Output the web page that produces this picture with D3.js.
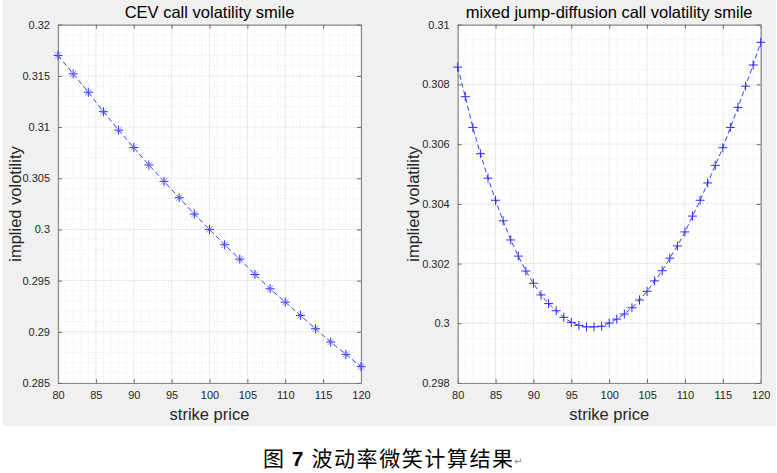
<!DOCTYPE html>
<html><head><meta charset="utf-8">
<script src="https://cdn.jsdelivr.net/npm/d3@7/dist/d3.min.js"></script>
<style>body{margin:0;background:#fff}svg{display:block}</style>
</head><body>
<svg id="c" width="777" height="473"></svg>
<script>
// ---- data ----
const cevStrikes = [80,82,84,86,88,90,92,94,96,98,100,102,104,106,108,110,112,114,116,118,120];
const cevVol = [0.3170,0.3152,0.3134,0.3115,0.3097,0.3080,0.3063,0.3047,0.3031,0.3015,0.3000,0.2985,0.2971,0.2956,0.2942,0.2929,0.2916,0.2903,0.2890,0.2878,0.2866];
const jdStrikes = [80,81,82,83,84,85,86,87,88,89,90,91,92,93,94,95,96,97,98,99,100,101,102,103,104,105,106,107,108,109,110,111,112,113,114,115,116,117,118,119,120];
const jdVol = [0.30858,0.30759,0.30656,0.30568,0.30486,0.30412,0.30343,0.30279,0.30225,0.30175,0.30134,0.30095,0.30066,0.30042,0.30020,0.30003,0.29993,0.29988,0.29988,0.29990,0.30001,0.30014,0.30031,0.30052,0.30078,0.30107,0.30142,0.30176,0.30218,0.30259,0.30306,0.30359,0.30412,0.30470,0.30529,0.30588,0.30656,0.30723,0.30794,0.30865,0.30941];
const xTicks = [80,85,90,95,100,105,110,115,120];
const cevYTicks = [0.285,0.29,0.295,0.3,0.305,0.31,0.315,0.32];
const cevYTickLabels = ["0.285","0.29","0.295","0.3","0.305","0.31","0.315","0.32"];
const jdYTicks = [0.298,0.3,0.302,0.304,0.306,0.308,0.31];
const jdYTickLabels = ["0.298","0.3","0.302","0.304","0.306","0.308","0.31"];
const titles = ["CEV call volatility smile","mixed jump-diffusion call volatility smile"];
const yLabels = ["implied volotility","implied volatility"];
const xLabel = "strike price";
const caption = ["图 ","7"," 波动率微笑计算结果"];

const svg = d3.select("#c");
const font = "Arial, 'Liberation Sans', Helvetica, sans-serif";
svg.append("rect").attr("x",3).attr("y",0).attr("width",773).attr("height",426).attr("fill","#f0f0f0");

function panel(o){
  const x = d3.scaleLinear().domain([80,120]).range([o.x0,o.x1]);
  const y = d3.scaleLinear().domain(o.yDom).range([383,24.7]);
  const g = svg.append("g");
  g.append("rect").attr("x",o.x0).attr("y",24.7).attr("width",o.x1-o.x0).attr("height",383-24.7).attr("fill","#fff");
  // minor grid
  const xMinor = d3.range(80,121,1).filter(v=>v%5!==0);
  const yMinor = d3.range(0,Math.round((o.yDom[1]-o.yDom[0])/o.yMinorStep)+1).map(i=>o.yDom[0]+i*o.yMinorStep)
     .filter(v=>!o.yTicks.some(t=>Math.abs(t-v)<1e-9));
  g.selectAll(".xm").data(xMinor).join("line").attr("x1",d=>x(d)).attr("x2",d=>x(d)).attr("y1",24.7).attr("y2",383)
    .attr("stroke","#e2e2e2").attr("stroke-width",0.8).attr("stroke-dasharray","1,2");
  g.selectAll(".ym").data(yMinor).join("line").attr("y1",d=>y(d)).attr("y2",d=>y(d)).attr("x1",o.x0).attr("x2",o.x1)
    .attr("stroke","#e2e2e2").attr("stroke-width",0.8).attr("stroke-dasharray","1,2");
  // major grid
  g.selectAll(".xg").data(xTicks).join("line").attr("x1",d=>x(d)).attr("x2",d=>x(d)).attr("y1",24.7).attr("y2",383)
    .attr("stroke","#d4d4d4").attr("stroke-width",0.8).attr("stroke-dasharray","1.5,1");
  g.selectAll(".yg").data(o.yTicks).join("line").attr("y1",d=>y(d)).attr("y2",d=>y(d)).attr("x1",o.x0).attr("x2",o.x1)
    .attr("stroke","#d4d4d4").attr("stroke-width",0.8).attr("stroke-dasharray","1.5,1");
  // axes
  const ax = g.append("g").attr("transform","translate(0,383)")
    .call(d3.axisBottom(x).tickValues(xTicks).tickSizeInner(-4).tickSizeOuter(0).tickPadding(8));
  const axT = g.append("g").attr("transform","translate(0,24.7)")
    .call(d3.axisTop(x).tickValues(xTicks).tickSizeInner(-4).tickSizeOuter(0).tickFormat(""));
  const ay = g.append("g").attr("transform",`translate(${o.x0},0)`)
    .call(d3.axisLeft(y).tickValues(o.yTicks).tickFormat((d,i)=>o.yTickLabels[i]).tickSizeInner(-4).tickSizeOuter(0).tickPadding(8));
  const ayR = g.append("g").attr("transform",`translate(${o.x1},0)`)
    .call(d3.axisRight(y).tickValues(o.yTicks).tickSizeInner(-4).tickSizeOuter(0).tickFormat(""));
  [ax,axT,ay,ayR].forEach(a=>{
    a.select(".domain").attr("stroke","#8a8a8a").attr("stroke-width",1.2);
    a.selectAll(".tick line").attr("stroke","#6a6a6a");
    a.selectAll("text").attr("fill","#262626").style("font-family",font).style("font-size","11px");
  });
  // line
  const pts = o.xs.map((d,i)=>[d,o.ys[i]]);
  g.append("path").datum(pts).attr("d",d3.line().x(d=>x(d[0])).y(d=>y(d[1])))
    .attr("fill","none").attr("stroke","#3b3bff").attr("stroke-width",1).attr("stroke-dasharray","5,3");
  // markers
  const m = g.selectAll(".mk").data(pts).join("g").attr("transform",d=>`translate(${x(d[0])},${y(d[1])})`);
  const s = 4.5;
  m.append("line").attr("x1",-s).attr("x2",s).attr("y1",0).attr("y2",0).attr("stroke","#2a2aff").attr("stroke-width",1);
  m.append("line").attr("x1",0).attr("x2",0).attr("y1",-s).attr("y2",s).attr("stroke","#2a2aff").attr("stroke-width",1);
  if(o.star){
    const d = s*0.7;
    m.append("line").attr("x1",-d).attr("x2",d).attr("y1",-d).attr("y2",d).attr("stroke","#6a6aff").attr("stroke-width",0.8);
    m.append("line").attr("x1",-d).attr("x2",d).attr("y1",d).attr("y2",-d).attr("stroke","#6a6aff").attr("stroke-width",0.8);
  }
  // texts
  const cx = (o.x0+o.x1)/2;
  g.append("text").attr("x",cx).attr("y",18).attr("text-anchor","middle").attr("fill","#000")
    .style("font-family",font).style("font-size","16.5px").text(o.title);
  g.append("text").attr("x",cx).attr("y",420).attr("text-anchor","middle").attr("fill","#262626")
    .style("font-family",font).style("font-size","16.5px").text(xLabel);
  g.append("text").attr("transform",`translate(${o.yLabX},204) rotate(-90)`).attr("text-anchor","middle").attr("fill","#262626")
    .style("font-family",font).style("font-size","16.5px").text(o.yLabel);
}

panel({x0:58,x1:361,yDom:[0.285,0.32],yTicks:cevYTicks,yTickLabels:cevYTickLabels,yMinorStep:0.001,
  xs:cevStrikes,ys:cevVol,star:true,title:titles[0],yLabel:yLabels[0],yLabX:21});
panel({x0:457.7,x1:760.7,yDom:[0.298,0.31],yTicks:jdYTicks,yTickLabels:jdYTickLabels,yMinorStep:0.0005,
  xs:jdStrikes,ys:jdVol,star:false,title:titles[1],yLabel:yLabels[1],yLabX:419});

// caption
const cap = svg.append("text").attr("x",263).attr("y",466).attr("fill","#000")
  .style("font-family","'Noto Sans CJK SC', sans-serif").style("font-size","21px")
  .attr("textLength",250).attr("lengthAdjust","spacing");
cap.append("tspan").text(caption[0]);
cap.append("tspan").style("font-family",font).style("font-weight","bold").text(caption[1]);
cap.append("tspan").text(caption[2]);
svg.append("text").attr("x",514).attr("y",465).attr("fill","#888").style("font-family","'DejaVu Sans'").style("font-size","10px").text("↵");
</script>
</body></html>
